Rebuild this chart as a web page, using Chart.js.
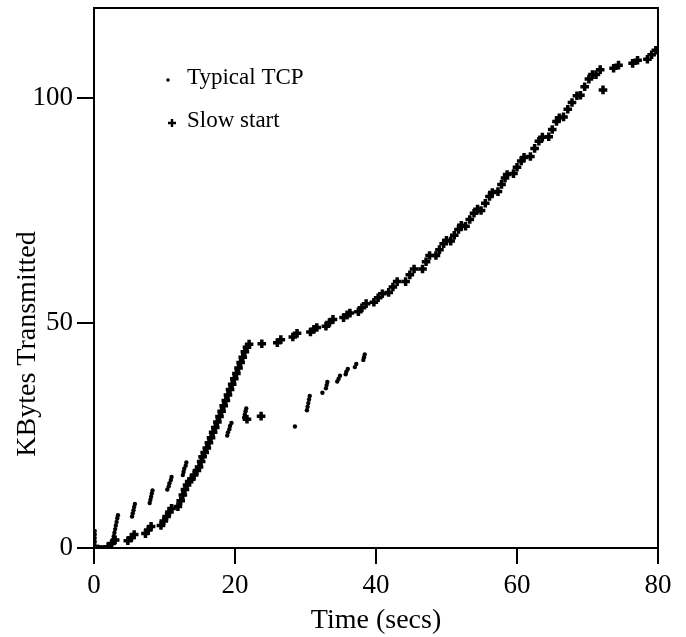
<!DOCTYPE html>
<html>
<head>
<meta charset="utf-8">
<script src="https://cdn.jsdelivr.net/npm/chart.js@4.4.1/dist/chart.umd.min.js"></script>
<style>
  html, body { margin: 0; padding: 0; background: #fff; }
  #wrap { width: 686px; height: 637px; position: relative; }
</style>
</head>
<body>
<div id="wrap"><canvas id="c"></canvas></div>
<script>
// KBytes transmitted vs time, typical TCP against slow start.
const seriesLabels = ['Typical TCP', 'Slow start'];
const xTicks = [0, 20, 40, 60, 80];
const yTicks = [0, 50, 100];

// Typical TCP: each burst shows up as a short vertical run of dots.
const tcpX = [
  0.1, 0.1, 0.1, 0.1, 0.1, 0.6, 1.0, 1.4,
  2.6, 2.7, 2.8, 2.9, 3.0, 3.1, 3.2, 3.3, 3.4,
  5.4, 5.5, 5.6, 5.7, 5.8,
  7.9, 8.0, 8.1, 8.2, 8.3,
  10.4, 10.6, 10.7, 10.9, 11.0,
  12.6, 12.7, 12.8, 13.0, 13.1,
  18.9, 19.0, 19.2, 19.3, 19.5,
  21.3, 21.4, 21.5, 21.6,
  28.5,
  30.2, 30.3, 30.4, 30.5, 30.6,
  32.4, 32.9, 33.0, 33.1,
  34.5, 34.7, 34.9,
  35.7, 35.8, 36.0,
  37.0, 37.2,
  38.2, 38.3, 38.4
];
const tcpY = [
  0.6, 1.4, 2.2, 3.0, 3.8, 0.3, 0.2, 0.2,
  1.0, 1.8, 2.6, 3.4, 4.2, 5.0, 5.8, 6.6, 7.3,
  7.0, 7.7, 8.4, 9.1, 9.8,
  10.0, 10.7, 11.4, 12.1, 12.8,
  13.0, 13.7, 14.4, 15.1, 15.8,
  16.2, 16.9, 17.6, 18.3, 19.0,
  25.0, 25.7, 26.4, 27.1, 27.8,
  29.0, 29.7, 30.4, 31.0,
  27.0,
  30.6, 31.4, 32.2, 33.0, 33.8,
  34.5, 35.5, 36.2, 36.9,
  37.0, 37.6, 38.3,
  38.6, 39.2, 39.8,
  40.2, 40.9,
  41.8, 42.4, 43.0
];

// Slow start: overlapping plus marks, read cluster by cluster.
const ssX = [
  2.0, 2.5, 3.0,
  4.8, 5.3, 5.7,
  7.3, 7.7, 8.1,
  9.5, 9.9, 10.3, 10.7, 11.0,
  11.9, 12.3, 12.6, 12.9, 13.2, 13.5,
  13.8, 14.2, 14.6,
  14.9, 15.2, 15.4, 15.7, 16.0, 16.3, 16.6, 16.9, 17.2, 17.5, 17.8, 18.1,
  18.4, 18.7, 19.0, 19.3, 19.6, 19.9, 20.2, 20.5, 20.8, 21.1, 21.4, 21.7, 22.0,
  21.7, 23.7,
  23.8,
  26.0, 26.5,
  28.2, 28.8,
  30.7, 31.2, 31.6,
  32.9, 33.4, 33.9,
  35.4, 35.9, 36.3,
  37.5, 38.0, 38.6,
  39.7, 40.3, 40.9,
  41.8, 42.4, 43.0,
  44.2, 44.8, 45.4,
  46.6, 47.1, 47.6,
  48.5, 49.0, 49.6, 50.0,
  50.6, 51.1, 51.7, 52.1,
  52.7, 53.3, 53.9, 54.4,
  54.9, 55.5, 56.1, 56.5,
  57.3, 57.8, 58.3, 58.6,
  59.5, 60.0, 60.6, 61.0,
  61.9, 62.5, 63.1, 63.6,
  64.5, 65.0, 65.6, 66.0,
  66.6, 67.2, 67.8, 68.5,
  69.0, 69.6, 70.2, 70.7,
  71.2, 71.8,
  72.2,
  73.7, 74.4,
  76.4, 77.1,
  78.5, 79.1, 79.7
];
const ssY = [
  0.3, 1.0, 1.8,
  1.6, 2.3, 3.0,
  3.2, 4.0, 4.8,
  5.0, 6.0, 7.0, 8.0, 8.8,
  9.2, 10.5, 11.8, 13.0, 14.0, 14.8,
  15.3, 16.2, 17.2,
  18.0, 19.2, 20.3, 21.2, 22.2, 23.4, 24.5, 25.7, 26.8, 28.0, 29.2, 30.4,
  31.6, 32.8, 34.0, 35.2, 36.4, 37.6, 38.8, 40.0, 41.2, 42.4, 43.6, 44.6, 45.3,
  28.6, 29.3,
  45.4,
  45.6, 46.3,
  46.9, 47.7,
  48.0, 48.6, 49.0,
  49.3, 50.1, 50.8,
  51.2, 51.8, 52.2,
  52.5, 53.4, 54.3,
  54.6, 55.6, 56.5,
  56.8, 58.0, 59.2,
  59.2, 60.7, 62.0,
  62.0, 63.6, 65.0,
  65.0, 66.3, 67.6, 68.4,
  68.2, 69.5, 70.8, 71.7,
  71.5, 73.0, 74.4, 75.3,
  75.0, 76.6, 78.1, 79.0,
  79.2, 80.8, 82.2, 83.0,
  83.2, 84.6, 86.0, 86.8,
  87.0, 88.8, 90.4, 91.3,
  91.4, 93.0, 94.8, 95.6,
  95.8, 97.5, 99.0, 100.5,
  100.6, 102.5, 104.2, 105.2,
  105.2, 106.3,
  101.8,
  106.6, 107.3,
  107.7, 108.4,
  108.6, 109.6, 110.6
];

const FONT = "'Liberation Serif', 'DejaVu Serif', serif";
const toPoints = (xs, ys) => xs.map((x, i) => ({ x, y: ys[i] }));

// full box round the plot, like the printed figure
const framePlugin = {
  id: 'frame',
  afterDatasetsDraw(chart) {
    const { ctx, chartArea: a } = chart;
    ctx.save();
    ctx.strokeStyle = '#000';
    ctx.lineWidth = 2;
    ctx.strokeRect(a.left, a.top, a.right - a.left, a.bottom - a.top);
    ctx.restore();
  },
};

// y title sits lower than the plot centre in the original, so place it by hand
const yTitlePlugin = {
  id: 'yTitle',
  afterDraw(chart) {
    const { ctx } = chart;
    ctx.save();
    ctx.translate(28, 344);
    ctx.rotate(-Math.PI / 2);
    ctx.fillStyle = '#000';
    ctx.font = `28px ${FONT}`;
    ctx.textAlign = 'center';
    ctx.textBaseline = 'middle';
    ctx.fillText('KBytes Transmitted', 0, 0);
    ctx.restore();
  },
};

// legend inside the plot, top left
const legendPlugin = {
  id: 'insideLegend',
  afterDraw(chart) {
    const { ctx } = chart;
    const rows = [
      { mx: 168, my: 80, ty: 84, r: 1.8, w: 0 },
      { mx: 172, my: 123, ty: 127, r: 4, w: 2.4 },
    ];
    ctx.save();
    chart.data.datasets.forEach((ds, i) => {
      const r = rows[i];
      ctx.fillStyle = '#000';
      ctx.strokeStyle = '#000';
      ctx.lineWidth = r.w;
      Chart.helpers.drawPoint(ctx, {
        pointStyle: ds.pointStyle,
        radius: r.r,
        borderWidth: r.w,
        rotation: 0,
      }, r.mx, r.my);
      ctx.font = `23px ${FONT}`;
      ctx.textAlign = 'left';
      ctx.textBaseline = 'alphabetic';
      ctx.fillText(ds.label, 187, r.ty);
    });
    ctx.restore();
  },
};

new Chart(document.getElementById('c'), {
  type: 'scatter',
  data: {
    datasets: [
      {
        label: seriesLabels[0],
        data: toPoints(tcpX, tcpY),
        pointStyle: 'circle',
        pointRadius: 2.2,
        pointBorderWidth: 0,
        backgroundColor: '#000',
        borderColor: '#000',
      },
      {
        label: seriesLabels[1],
        data: toPoints(ssX, ssY),
        pointStyle: 'cross',
        pointRadius: 4.3,
        pointBorderWidth: 3.5,
        backgroundColor: '#000',
        borderColor: '#000',
      },
    ],
  },
  options: {
    responsive: true,
    maintainAspectRatio: false,
    animation: false,
    layout: { padding: { top: 8, right: 28, bottom: 0, left: 0 } },
    plugins: { legend: { display: false }, tooltip: { enabled: false } },
    scales: {
      x: {
        type: 'linear',
        min: 0,
        max: 80,
        afterBuildTicks: (s) => { s.ticks = xTicks.map((v) => ({ value: v })); },
        afterFit: (s) => { s.height = 89; s.paddingLeft = 0; s.paddingRight = 0; },
        ticks: { color: '#000', font: { family: FONT, size: 27 }, padding: 6, maxRotation: 0 },
        grid: { drawOnChartArea: false, drawTicks: true, tickLength: 16, color: '#000', lineWidth: 2 },
        border: { display: true, color: '#000', width: 2 },
        title: { display: true, text: 'Time (secs)', color: '#000', font: { family: FONT, size: 28 }, padding: 0 },
      },
      y: {
        type: 'linear',
        min: 0,
        max: 120,
        afterBuildTicks: (s) => { s.ticks = yTicks.map((v) => ({ value: v })); },
        afterFit: (s) => { s.width = 94; s.paddingTop = 0; s.paddingBottom = 0; },
        ticks: { color: '#000', font: { family: FONT, size: 27 }, padding: 4 },
        grid: { drawOnChartArea: false, drawTicks: true, tickLength: 17, color: '#000', lineWidth: 2 },
        border: { display: true, color: '#000', width: 2 },
      },
    },
  },
  plugins: [framePlugin, yTitlePlugin, legendPlugin],
});
</script>
</body>
</html>
